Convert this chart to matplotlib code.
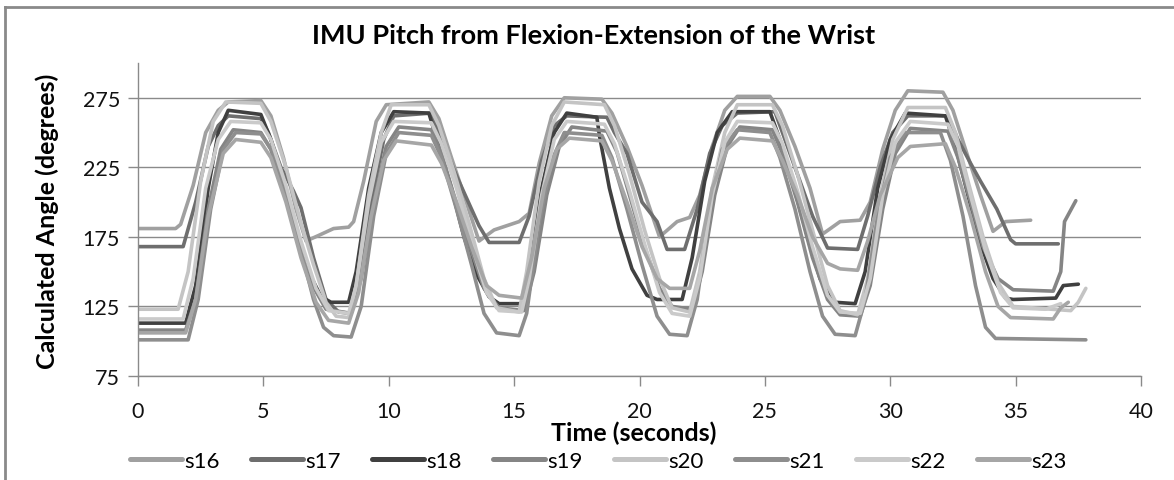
import matplotlib
matplotlib.use("Agg")
import matplotlib.pyplot as plt
from matplotlib.lines import Line2D

# time (s) and pitch (deg), one pair of lists per subject
s16_t = [0, 1.5, 1.7, 2.2, 2.7, 3.2, 3.6, 4.9, 5.3, 5.8, 6.3, 6.7, 7.2, 7.8, 8.4, 8.6, 9.0, 9.5, 9.9, 11.6,
         12.0, 12.5, 13.0, 13.6, 14.2, 15.2, 15.6, 16.0, 16.5, 17.0, 18.5, 18.9, 19.5, 20.1, 20.8, 21.5, 22.0,
         22.4, 22.9, 23.4, 23.9, 25.2, 25.6, 26.2, 26.8, 27.3, 28.0, 28.8, 29.2, 29.7, 30.2, 30.7, 32.1, 32.5,
         33.0, 33.6, 34.1, 34.6, 35.6]
s16_v = [181, 181, 184, 212, 250, 266, 272, 273, 262, 232, 195, 172, 176, 181, 182, 186, 215, 258, 270, 272,
         260, 232, 205, 172, 180, 186, 192, 228, 262, 275, 274, 264, 240, 212, 175, 186, 189,
         205, 240, 266, 276, 276, 266, 240, 210, 177, 186, 187, 200, 238, 266, 280, 279, 266,
         238, 205, 179, 186, 187]

s17_t = [0, 1.8, 2.3, 2.8, 3.2, 3.6, 4.9, 5.2, 5.7, 6.2, 6.5, 7.0, 7.5, 8.0, 8.5, 8.8, 9.3, 9.8, 10.2, 11.7,
         12.1, 12.7, 13.2, 13.6, 14.0, 15.2, 15.6, 16.1, 16.6, 17.1, 18.7, 19.0, 19.5, 20.1, 20.7, 21.1, 21.8,
         22.3, 22.8, 23.3, 23.9, 25.4, 25.8, 26.4, 26.9, 27.5, 28.7, 29.1, 29.6, 30.1, 30.7, 32.3, 32.7, 33.2,
         33.6, 34.25, 34.8, 35.0, 36.7]
s17_v = [168, 168, 200, 240, 255, 262, 260, 250, 225, 208, 196, 160, 130, 121, 120, 140, 200, 245, 262, 264,
         245, 219, 199, 183, 171, 171, 190, 230, 255, 262, 261, 250, 235, 200, 186, 166, 166,
         195, 235, 255, 264, 265, 245, 215, 190, 167, 166, 190, 225, 250, 262, 262, 245, 228,
         215, 195, 173, 170, 170]

s18_t = [0, 1.9, 2.3, 2.8, 3.2, 3.6, 4.9, 5.3, 5.8, 6.3, 6.8, 7.3, 7.7, 8.4, 8.7, 9.2, 9.7, 10.2, 11.6, 12.0,
         12.5, 13.0, 13.5, 14.0, 14.4, 15.3, 15.6, 16.1, 16.6, 17.1, 18.3, 18.4, 18.8, 19.2, 19.7, 20.3, 20.7,
         21.7, 22.1, 22.6, 23.1, 23.7, 25.2, 25.6, 26.1, 26.7, 27.2, 27.8, 28.6, 29.0, 29.5, 30.0, 30.6, 32.2,
         32.6, 33.1, 33.6, 34.1, 34.6, 34.9, 36.6, 36.9, 37.5]
s18_v = [113, 113, 140, 210, 250, 266, 263, 245, 215, 180, 150, 132, 128, 128, 150, 210, 250, 265, 264, 240,
         210, 175, 148, 132, 127, 127, 150, 210, 250, 264, 261, 248, 210, 181, 152, 133, 130,
         130, 160, 215, 250, 265, 265, 245, 215, 175, 145, 128, 127, 150, 210, 245, 264, 262,
         240, 205, 170, 145, 131, 130, 131, 140, 141]

s19_t = [0, 1.9, 2.3, 2.8, 3.3, 3.8, 4.9, 5.3, 5.8, 6.3, 6.9, 7.5, 8.5, 8.9, 9.4, 9.9, 10.4, 11.7, 12.1, 12.6,
         13.2, 13.8, 14.4, 15.4, 15.8, 16.3, 16.8, 17.3, 18.7, 19.1, 19.6, 20.2, 20.8, 21.3, 22.1, 22.5, 23.0,
         23.5, 24.0, 25.3, 25.7, 26.3, 26.9, 27.5, 28.0, 28.8, 29.2, 29.7, 30.2, 30.8, 32.3, 32.7, 33.2, 33.7,
         34.3, 34.9, 36.5, 36.8, 36.95, 37.4]
s19_v = [108, 108, 130, 195, 238, 252, 250, 238, 210, 175, 142, 123, 120, 145, 200, 240, 254, 252, 235, 205,
         170, 138, 124, 122, 150, 205, 240, 254, 251, 236, 205, 168, 138, 125, 123, 150, 205,
         240, 254, 252, 235, 200, 160, 130, 119, 118, 140, 195, 235, 253, 251, 232, 200, 168,
         145, 137, 136, 150, 186, 201]

s20_t = [0, 1.6, 2.0, 2.5, 3.0, 3.5, 4.9, 5.3, 5.9, 6.5, 7.0, 7.5, 7.9, 8.4, 8.7, 9.2, 9.7, 10.1, 11.6, 12.0,
         12.6, 13.2, 13.8, 14.3, 15.2, 15.5, 16.0, 16.5, 17.0, 18.6, 19.0, 19.6, 20.2, 20.8, 21.3, 22.0, 22.4,
         22.9, 23.4, 23.9, 25.3, 25.7, 26.3, 26.9, 27.5, 28.0, 28.7, 29.1, 29.6, 30.1, 30.7, 32.2, 32.6, 33.1,
         33.7, 34.3, 34.9, 37.2, 37.5, 37.8]
s20_v = [123, 123, 150, 215, 258, 272, 271, 258, 225, 185, 155, 128, 118, 117, 140, 205, 250, 270, 270, 255,
         222, 185, 145, 124, 121, 150, 215, 255, 272, 270, 255, 220, 180, 145, 124, 121, 150,
         210, 250, 270, 270, 255, 220, 180, 140, 122, 119, 145, 205, 245, 268, 268, 250, 215,
         175, 142, 125, 122, 128, 138]

s21_t = [0, 2.0, 2.4, 2.9, 3.4, 3.9, 4.9, 5.3, 5.9, 6.5, 7.0, 7.4, 7.8, 8.5, 8.9, 9.4, 9.9, 10.4, 11.7, 12.1,
         12.7, 13.3, 13.8, 14.3, 15.2, 15.5, 16.0, 16.5, 17.0, 18.5, 18.9, 19.5, 20.1, 20.7, 21.2, 21.9, 22.3,
         22.8, 23.3, 23.9, 25.2, 25.6, 26.2, 26.8, 27.3, 27.8, 28.6, 29.0, 29.5, 30.0, 30.6, 32.0, 32.4, 32.9,
         33.4, 33.8, 34.2, 37.8]
s21_v = [101, 101, 130, 195, 238, 250, 249, 238, 205, 165, 130, 110, 104, 103, 125, 190, 235, 250, 248, 232,
         195, 155, 120, 106, 104, 120, 185, 230, 250, 248, 232, 195, 155, 118, 105, 104, 130,
         195, 238, 252, 250, 232, 195, 150, 118, 105, 104, 130, 190, 232, 250, 250, 230, 190,
         140, 110, 102, 101]

s22_t = [0, 1.8, 2.2, 2.7, 3.2, 3.7, 4.9, 5.3, 5.9, 6.5, 7.1, 7.6, 8.4, 8.7, 9.2, 9.7, 10.2, 11.7, 12.1, 12.7,
         13.3, 13.9, 14.4, 15.3, 15.6, 16.1, 16.6, 17.1, 18.6, 19.0, 19.6, 20.2, 20.8, 21.3, 22.0, 22.4, 22.9,
         23.4, 23.9, 25.3, 25.7, 26.3, 26.9, 27.5, 28.0, 28.8, 29.2, 29.7, 30.2, 30.8, 32.3, 32.7, 33.2, 33.8,
         34.4, 34.9, 36.2, 36.8]
s22_v = [116, 116, 145, 210, 245, 258, 257, 245, 212, 172, 138, 122, 120, 140, 200, 243, 258, 257, 242, 210,
         170, 135, 122, 121, 145, 205, 245, 258, 256, 242, 208, 170, 135, 120, 118, 145, 205,
         243, 258, 257, 242, 208, 168, 133, 121, 120, 145, 205, 243, 258, 256, 240, 205, 165,
         135, 124, 123, 127]

s23_t = [0, 1.9, 2.3, 2.8, 3.4, 3.9, 4.9, 5.3, 5.9, 6.5, 7.1, 7.6, 8.4, 8.8, 9.3, 9.8, 10.3, 11.7, 12.1, 12.7,
         13.3, 13.9, 14.4, 15.3, 15.7, 16.2, 16.7, 17.2, 18.5, 18.9, 19.5, 20.1, 20.7, 21.2, 22.0, 22.4, 22.9,
         23.5, 24.0, 25.3, 25.7, 26.3, 26.9, 27.5, 28.0, 28.7, 29.1, 29.6, 30.3, 30.8, 32.2, 32.6, 33.2, 33.8,
         34.3, 34.8, 36.5, 36.8, 37.1]
s23_v = [106, 106, 130, 190, 235, 245, 243, 232, 200, 160, 128, 115, 113, 135, 190, 230, 244, 241, 228, 200,
         168, 140, 133, 131, 160, 210, 238, 246, 244, 230, 200, 168, 145, 138, 138, 165, 210,
         238, 246, 244, 230, 205, 175, 156, 152, 151, 172, 205, 232, 240, 242, 225, 190, 150,
         125, 117, 116, 124, 128]

names = ["s16", "s17", "s18", "s19", "s20", "s21", "s22", "s23"]
times = [s16_t, s17_t, s18_t, s19_t, s20_t, s21_t, s22_t, s23_t]
values = [s16_v, s17_v, s18_v, s19_v, s20_v, s21_v, s22_v, s23_v]
colors = ["#a0a0a0", "#6e6e6e", "#404040", "#858585", "#c4c4c4", "#8e8e8e", "#cacaca", "#a6a6a6"]

plt.rcParams['font.family'] = ['Lato', 'DejaVu Sans']

fig = plt.figure(figsize=(11.74, 4.81), dpi=100)
ax = fig.add_axes([138 / 1174, 1 - 377 / 481, (1141 - 138) / 1174, (377 - 64) / 481])

for name, t, v, c in zip(names, times, values, colors):
    ax.plot(t, v, color=c, lw=2.6, label=name, solid_joinstyle='round', solid_capstyle='round')

ax.set_xlim(0, 40)
ax.set_ylim(75, 300)
ax.set_xticks(range(0, 41, 5))
ax.set_yticks(range(75, 276, 50))
ax.grid(axis='y', color='#8a8a8a', lw=1)
ax.set_axisbelow(True)
for side in ['top', 'right']:
    ax.spines[side].set_visible(False)
for side in ['left', 'bottom']:
    ax.spines[side].set_color('#8a8a8a')
    ax.spines[side].set_linewidth(1)
ax.tick_params(axis='both', direction='out', length=7, width=1, color='#8a8a8a', labelsize=15.5,
               labelcolor='#111111')
ax.tick_params(axis='x', pad=11)
ax.tick_params(axis='y', pad=6)

fig.text(634 / 1174, 1 - 433 / 481, "Time (seconds)", ha='center', va='center',
         fontsize=18, fontweight='bold')
fig.text(47 / 1174, 1 - 221 / 481, "Calculated Angle (degrees)", ha='center', va='center',
         rotation=90, fontsize=18, fontweight='bold')
fig.text(594 / 1174, 1 - 36 / 481, "IMU Pitch from Flexion-Extension of the Wrist",
         ha='center', va='center', fontsize=19.5, fontweight='bold')

leg = fig.legend(loc='center', bbox_to_anchor=(598 / 1174, 1 - 462 / 481), ncol=8, frameon=False,
                 fontsize=16, handlelength=2.35, handletextpad=0.1, columnspacing=1.4)
for line in leg.get_lines():
    line.set_linewidth(3.6)

# chart border (left and top edges only visible)
fig.add_artist(Line2D([5 / 1174, 5 / 1174], [0, 1 - 8 / 481], transform=fig.transFigure,
                      color='#8a8a8a', lw=2))
fig.add_artist(Line2D([5 / 1174, 1], [1 - 8 / 481, 1 - 8 / 481], transform=fig.transFigure,
                      color='#8a8a8a', lw=2))

fig.savefig("out.png", dpi=100)
